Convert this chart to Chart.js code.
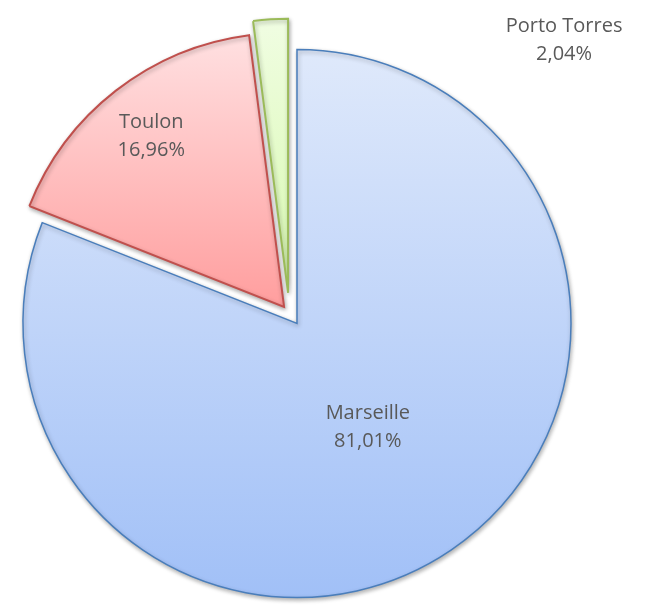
<!DOCTYPE html>
<html>
<head>
<meta charset="utf-8">
<script src="https://cdn.jsdelivr.net/npm/chart.js@4"></script>
<style>
  html, body { margin: 0; padding: 0; background: #fff; }
  #wrap { width: 648px; height: 612px; position: relative; }
</style>
</head>
<body>
<div id="wrap"><canvas id="pie"></canvas></div>
<script>
// data
const ports = ['Marseille', 'Toulon', 'Porto Torres'];
const shares = [81.01, 16.96, 2.04];
const shareLabels = ['81,01%', '16,96%', '2,04%'];

// look of each slice
const fillTop = ['#dfe9fb', '#ffe0e1', '#f0fde2'];
const fillBottom = ['#a1c0f7', '#ff9e9e', '#d8f9b0'];
const edge = ['#4a7ebb', '#c0504d', '#9bbb59'];
const edgeWidth = [1.5, 2, 2];
const explode = [0, 21, 32];        // px pulled out of the pie
const explodeTurn = [0, 0, -12.5];  // deg, tweak of the pull direction
// label spot: r = fraction of radius from slice apex, a = angle (deg from top), default mid-angle
const labelAt = [{ r: 0.46 }, { r: 0.79 }, { r: 1.366, a: 47.5 }];

const deg = Math.PI / 180;

const sliceLook = {
    id: 'sliceLook',
    afterDatasetUpdate(chart, args) {
        args.meta.data.forEach((arc, i) => {
            const dir = (arc.startAngle + arc.endAngle) / 2 + explodeTurn[i] * deg;
            arc.x += Math.cos(dir) * explode[i];
            arc.y += Math.sin(dir) * explode[i];

            // vertical extent of the slice for its gradient
            let top = arc.y, bottom = arc.y;
            for (let t = 0; t <= 64; t++) {
                const a = arc.startAngle + (arc.endAngle - arc.startAngle) * t / 64;
                const y = arc.y + Math.sin(a) * arc.outerRadius;
                top = Math.min(top, y);
                bottom = Math.max(bottom, y);
            }
            const g = chart.ctx.createLinearGradient(0, top, 0, bottom);
            g.addColorStop(0, fillTop[i]);
            g.addColorStop(1, fillBottom[i]);
            arc.options = Object.assign({}, arc.options, { backgroundColor: g });
        });
    },
    beforeDatasetDraw(chart) {
        const ctx = chart.ctx;
        ctx.save();
        ctx.shadowColor = 'rgba(0, 0, 0, 0.3)';
        ctx.shadowBlur = 4;
        ctx.shadowOffsetX = 1;
        ctx.shadowOffsetY = 2;
    },
    afterDatasetDraw(chart) {
        chart.ctx.restore();
    },
    afterDraw(chart) {
        const ctx = chart.ctx;
        const arcs = chart.getDatasetMeta(0).data;
        ctx.save();
        ctx.font = '20px "Open Sans"';
        ctx.fillStyle = '#595959';
        ctx.textAlign = 'center';
        ctx.textBaseline = 'middle';
        arcs.forEach((arc, i) => {
            const spot = labelAt[i];
            const ang = spot.a !== undefined
                ? spot.a * deg - Math.PI / 2
                : (arc.startAngle + arc.endAngle) / 2;
            const x = arc.x + Math.cos(ang) * spot.r * arc.outerRadius;
            const y = arc.y + Math.sin(ang) * spot.r * arc.outerRadius;
            ctx.fillText(ports[i], x, y - 14);
            ctx.fillText(shareLabels[i], x, y + 14);
        });
        ctx.restore();
    }
};

new Chart(document.getElementById('pie'), {
    type: 'pie',
    data: {
        labels: ports,
        datasets: [{
            data: shares,
            borderColor: edge,
            borderWidth: edgeWidth,
            borderJoinStyle: 'miter',
            radius: 274
        }]
    },
    options: {
        responsive: true,
        maintainAspectRatio: false,
        animation: false,
        events: [],
        layout: { padding: { left: 0, right: 54, top: 35, bottom: 0 } },
        plugins: {
            legend: { display: false },
            tooltip: { enabled: false }
        }
    },
    plugins: [sliceLook]
});
</script>
</body>
</html>
